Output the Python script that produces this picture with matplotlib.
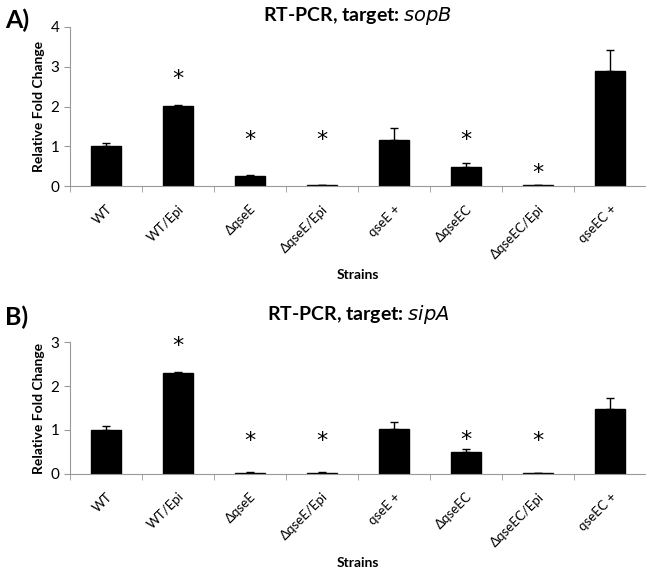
import numpy as np
import matplotlib
matplotlib.use('Agg')
import matplotlib.pyplot as plt

plt.rcParams['font.family'] = ['Lato', 'DejaVu Sans']

strains = ['WT', 'WT/Epi', 'ΔqseE', 'ΔqseE/Epi', 'qseE +', 'ΔqseEC', 'ΔqseEC/Epi', 'qseEC +']

# panel A: sopB
sopb_vals = [1.00, 2.02, 0.25, 0.03, 1.17, 0.48, 0.02, 2.90]
sopb_err = [0.08, 0.02, 0.02, 0.01, 0.29, 0.10, 0.01, 0.52]
sopb_star = [False, True, True, True, False, True, True, False]
sopb_star_y = [0, 2.70, 1.15, 1.15, 0, 1.15, 0.33, 0]

# panel B: sipA
sipa_vals = [1.00, 2.30, 0.03, 0.03, 1.02, 0.50, 0.01, 1.47]
sipa_err = [0.10, 0.02, 0.01, 0.01, 0.17, 0.06, 0.01, 0.25]
sipa_star = [False, True, True, True, False, True, True, False]
sipa_star_y = [0, 2.90, 0.75, 0.75, 0, 0.78, 0.75, 0]


def draw_panel(ax, vals, err, stars, star_y, ymax, title_gene, title_pad):
    x = np.arange(len(strains))
    yerr = [np.zeros(len(err)), err]
    ax.bar(x, vals, width=0.42, color='black', edgecolor='black',
           yerr=yerr, error_kw=dict(ecolor='black', elinewidth=1.0, capsize=3, capthick=1.0))
    for xi, s, sy in zip(x, stars, star_y):
        if s:
            ax.text(xi, sy, '*', ha='center', va='center', fontsize=16, family='DejaVu Sans')
    ax.set_xlim(-0.5, len(strains) - 0.5)
    ax.set_ylim(0, ymax)
    ax.set_yticks(range(0, ymax + 1))
    ax.set_xticks(x)
    ax.set_xticklabels(strains, rotation=45, ha='right', rotation_mode='anchor', fontsize=9.5)
    ax.set_xticks(np.arange(-0.5, len(strains)), minor=True)
    ax.tick_params(axis='x', which='major', length=0, pad=12)
    ax.tick_params(axis='x', which='minor', length=4, color='#999999', direction='out')
    ax.tick_params(axis='y', length=4, color='#999999', labelsize=11)
    for side in ['top', 'right']:
        ax.spines[side].set_visible(False)
    for side in ['left', 'bottom']:
        ax.spines[side].set_color('#999999')
    ax.set_ylabel('Relative Fold Change', fontsize=10, fontweight='bold')
    ax.set_xlabel('Strains', fontsize=10, fontweight='bold', labelpad=6)
    ax.set_title('RT-PCR, target: $\\bf{\\it{' + title_gene + '}}$', fontsize=14,
                 fontweight='bold', pad=title_pad)


fig = plt.figure(figsize=(6.46, 5.73), dpi=100)
ax_a = fig.add_axes([0.108, 0.675, 0.892, 0.278])
ax_b = fig.add_axes([0.108, 0.173, 0.892, 0.230])

draw_panel(ax_a, sopb_vals, sopb_err, sopb_star, sopb_star_y, 4, 'sopB', 4)
draw_panel(ax_b, sipa_vals, sipa_err, sipa_star, sipa_star_y, 3, 'sipA', 16)

fig.text(0.008, 0.965, 'A)', fontsize=18, fontweight='bold', va='center')
fig.text(0.008, 0.447, 'B)', fontsize=18, fontweight='bold', va='center')

fig.savefig('out.png', dpi=100)
